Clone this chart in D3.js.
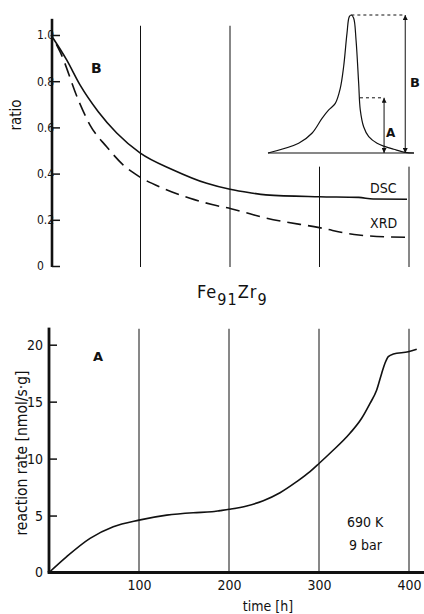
<!DOCTYPE html>
<html>
<head>
<meta charset="utf-8">
<script src="https://cdn.jsdelivr.net/npm/d3@7"></script>
<style>
    body { margin: 0; background: #fff; }
    svg text { font-family: "DejaVu Sans Condensed", "Liberation Sans Narrow", "DejaVu Sans", sans-serif; fill: #111; }
</style>
</head>
<body>
<div id="chart-area"></div>
<script>
// time axis [h]
var timeTicks = [100, 200, 300, 400];

// upper panel: ratio from DSC and XRD
var dscTime  = [0, 17.5, 32.4, 52.8, 73.4, 99.4, 136.6, 174, 200, 222.3, 240, 299.8, 343.8, 360, 397.8];
var dscRatio = [1.0, 0.892, 0.784, 0.668, 0.576, 0.49, 0.416, 0.358, 0.332, 0.317, 0.308, 0.30, 0.297, 0.29, 0.289];
var xrdTime  = [6, 10.1, 30.5, 43.6, 62.2, 80.8, 99.4, 125.5, 155.3, 179.9, 201.1, 222.3, 235.8, 299.8, 343.8, 397.8];
var xrdRatio = [0.96, 0.928, 0.719, 0.61, 0.516, 0.437, 0.385, 0.336, 0.293, 0.266, 0.248, 0.226, 0.212, 0.166, 0.134, 0.124];
var ratioTicks = [0, 0.2, 0.4, 0.6, 0.8, 1.0];
var ratioGridEnd = [1.04, 1.04, 0.43, 0.43];

// inset: DSC peak, arbitrary units
var peakX = [0, 21, 30.1, 37, 41.6, 46.1, 49.5, 51.8, 54.1, 55.7, 57.1, 58.7, 60.3, 62.1, 63.2, 65.5, 69, 74.7, 80.3, 86.1, 94, 100];
var peakY = [0, 0.07, 0.143, 0.251, 0.312, 0.36, 0.469, 0.625, 0.867, 0.988, 1.0, 0.976, 0.819, 0.505, 0.312, 0.19, 0.118, 0.07, 0.046, 0.027, 0.004, 0];

// lower panel: reaction rate [nmol/s g]
var rateTime  = [0, 19.7, 45.6, 71.4, 100, 130.8, 160.3, 181, 190, 200.3, 219.7, 238.1, 256.7, 275.2, 290, 300.3, 312.2, 334.4, 347.4, 356.7, 364, 369.7, 373.3, 377, 382.6, 399.2, 408.6];
var rateValue = [0, 1.4, 3.0, 4.02, 4.6, 5.04, 5.25, 5.33, 5.43, 5.55, 5.84, 6.30, 7.0, 7.97, 8.85, 9.59, 10.47, 12.22, 13.54, 14.85, 16.0, 17.5, 18.37, 18.95, 19.18, 19.38, 19.6];
var rateTicks = [0, 5, 10, 15, 20];

var ink = "#111";

var svg = d3.select("#chart-area")
    .append("svg")
    .attr("width", 424)
    .attr("height", 614);

// ---------------- upper panel ----------------
var xTop = d3.scaleLinear().domain([0, 400]).range([51, 409]);
var yTop = d3.scaleLinear().domain([0, 1]).range([266, 35]);

svg.append("g").selectAll("line")
    .data(timeTicks)
    .enter().append("line")
    .attr("x1", function(d) { return xTop(d); })
    .attr("x2", function(d) { return xTop(d); })
    .attr("y1", yTop(0) + 1)
    .attr("y2", function(d, i) { return yTop(ratioGridEnd[i]); })
    .attr("stroke", ink)
    .attr("stroke-width", 1);

var yTopAxis = svg.append("g")
    .attr("transform", "translate(" + (xTop(0) + 1) + ",0)")
    .call(d3.axisLeft(yTop)
        .tickValues(ratioTicks)
        .tickSizeInner(-8)
        .tickSizeOuter(0)
        .tickPadding(3)
        .tickFormat(function(d) { return d === 0 ? "0" : d3.format(".1f")(d); }));
yTopAxis.select(".domain").remove();
yTopAxis.selectAll("line").attr("stroke", ink).attr("stroke-width", 1.5);
yTopAxis.selectAll("text")
    .attr("text-anchor", "start")
    .attr("x", -15)
    .style("font-size", "12px");

svg.append("line")
    .attr("x1", xTop(0) + 1).attr("x2", xTop(0) + 1)
    .attr("y1", yTop(1.07)).attr("y2", yTop(0) + 1)
    .attr("stroke", ink)
    .attr("stroke-width", 2.6);

var lineTop = d3.line()
    .x(function(d) { return xTop(d[0]); })
    .y(function(d) { return yTop(d[1]); })
    .curve(d3.curveMonotoneX);

svg.append("path")
    .attr("d", lineTop(d3.zip(dscTime, dscRatio)))
    .attr("fill", "none")
    .attr("stroke", ink)
    .attr("stroke-width", 1.6);

svg.append("path")
    .attr("d", lineTop(d3.zip(xrdTime, xrdRatio)))
    .attr("fill", "none")
    .attr("stroke", ink)
    .attr("stroke-width", 1.6)
    .attr("stroke-dasharray", "14,7");

svg.append("text")
    .attr("x", 370).attr("y", 193)
    .style("font-size", "14px")
    .text("DSC");
svg.append("text")
    .attr("x", 370).attr("y", 228)
    .style("font-size", "14px")
    .text("XRD");

svg.append("text")
    .attr("transform", "translate(21,115) rotate(-90)")
    .attr("text-anchor", "middle")
    .style("font-size", "15px")
    .text("ratio");

svg.append("text")
    .attr("x", 91).attr("y", 73)
    .style("font-size", "14px")
    .style("font-weight", "bold")
    .style("font-family", "'DejaVu Sans', sans-serif")
    .text("B");

// inset
var ix = d3.scaleLinear().domain([0, 100]).range([268, 414]);
var iy = d3.scaleLinear().domain([0, 1]).range([153, 15]);

var defs = svg.append("defs");
defs.append("marker")
    .attr("id", "arr")
    .attr("viewBox", "0 0 10 10")
    .attr("refX", 10).attr("refY", 5)
    .attr("markerWidth", 5).attr("markerHeight", 5)
    .attr("markerUnits", "userSpaceOnUse")
    .attr("orient", "auto-start-reverse")
    .append("path")
    .attr("d", "M0,0L10,5L0,10z")
    .attr("fill", ink);

svg.append("line")
    .attr("x1", ix(0)).attr("x2", ix(100))
    .attr("y1", iy(0)).attr("y2", iy(0))
    .attr("stroke", ink).attr("stroke-width", 1.2);

svg.append("path")
    .attr("d", d3.line()
        .x(function(d) { return ix(d[0]); })
        .y(function(d) { return iy(d[1]); })
        .curve(d3.curveCatmullRom)(d3.zip(peakX, peakY)))
    .attr("fill", "none")
    .attr("stroke", ink)
    .attr("stroke-width", 1.2);

svg.append("line")
    .attr("x1", ix(57.1)).attr("x2", ix(94))
    .attr("y1", iy(1)).attr("y2", iy(1))
    .attr("stroke", ink).attr("stroke-width", 1)
    .attr("stroke-dasharray", "3,3");
svg.append("line")
    .attr("x1", ix(94)).attr("x2", ix(94))
    .attr("y1", iy(1)).attr("y2", iy(0))
    .attr("stroke", ink).attr("stroke-width", 1)
    .attr("marker-start", "url(#arr)")
    .attr("marker-end", "url(#arr)");
svg.append("line")
    .attr("x1", ix(63)).attr("x2", ix(79.5))
    .attr("y1", iy(0.4)).attr("y2", iy(0.4))
    .attr("stroke", ink).attr("stroke-width", 1)
    .attr("stroke-dasharray", "3,3");
svg.append("line")
    .attr("x1", ix(79.5)).attr("x2", ix(79.5))
    .attr("y1", iy(0.4)).attr("y2", iy(0))
    .attr("stroke", ink).attr("stroke-width", 1)
    .attr("marker-start", "url(#arr)")
    .attr("marker-end", "url(#arr)");

svg.append("text")
    .attr("x", 410).attr("y", 87)
    .style("font-size", "13px")
    .style("font-weight", "bold")
    .style("font-family", "'DejaVu Sans', sans-serif")
    .text("B");
svg.append("text")
    .attr("x", 386).attr("y", 137)
    .style("font-size", "12px")
    .style("font-weight", "bold")
    .style("font-family", "'DejaVu Sans', sans-serif")
    .text("A");

// title
var title = svg.append("text")
    .attr("x", 197).attr("y", 298)
    .style("font-size", "18px")
    .style("letter-spacing", "1px");
title.append("tspan").text("Fe");
title.append("tspan").attr("dy", 7).style("font-size", "16px").text("91");
title.append("tspan").attr("dy", -7).text("Zr");
title.append("tspan").attr("dy", 7).style("font-size", "16px").text("9");

// ---------------- lower panel ----------------
var xBot = d3.scaleLinear().domain([0, 400]).range([49, 409]);
var yBot = d3.scaleLinear().domain([0, 20]).range([572.5, 344.7]);

svg.append("g").selectAll("line")
    .data(timeTicks)
    .enter().append("line")
    .attr("x1", function(d) { return xBot(d); })
    .attr("x2", function(d) { return xBot(d); })
    .attr("y1", yBot(0))
    .attr("y2", yBot(21.4))
    .attr("stroke", ink)
    .attr("stroke-width", 1);

var yBotAxis = svg.append("g")
    .attr("transform", "translate(" + xBot(0) + ",0)")
    .call(d3.axisLeft(yBot)
        .tickValues(rateTicks)
        .tickSizeInner(-8)
        .tickSizeOuter(0)
        .tickPadding(6));
yBotAxis.select(".domain").remove();
yBotAxis.selectAll("line").attr("stroke", ink).attr("stroke-width", 1.5);
yBotAxis.selectAll("text").style("font-size", "14px");

var xBotAxis = svg.append("g")
    .attr("transform", "translate(0," + yBot(0) + ")")
    .call(d3.axisBottom(xBot)
        .tickValues(timeTicks)
        .tickSize(0)
        .tickPadding(8));
xBotAxis.select(".domain").remove();
xBotAxis.selectAll("text").style("font-size", "14px");

svg.append("line")
    .attr("x1", xBot(0)).attr("x2", xBot(0))
    .attr("y1", yBot(21.5)).attr("y2", yBot(0))
    .attr("stroke", ink)
    .attr("stroke-width", 2.8);
svg.append("line")
    .attr("x1", xBot(0) - 1.4).attr("x2", xBot(417))
    .attr("y1", yBot(0)).attr("y2", yBot(0))
    .attr("stroke", ink)
    .attr("stroke-width", 2.8);

svg.append("path")
    .attr("d", d3.line()
        .x(function(d) { return xBot(d[0]); })
        .y(function(d) { return yBot(d[1]); })
        .curve(d3.curveMonotoneX)(d3.zip(rateTime, rateValue)))
    .attr("fill", "none")
    .attr("stroke", ink)
    .attr("stroke-width", 1.6);

svg.append("text")
    .attr("transform", "translate(27,453) rotate(-90)")
    .attr("text-anchor", "middle")
    .style("font-size", "15.5px")
    .text("reaction rate [nmol/s\u00b7g]");

svg.append("text")
    .attr("x", 268).attr("y", 611)
    .attr("text-anchor", "middle")
    .style("font-size", "14px")
    .text("time [h]");

svg.append("text")
    .attr("x", 93).attr("y", 361)
    .style("font-size", "13px")
    .style("font-weight", "bold")
    .style("font-family", "'DejaVu Sans', sans-serif")
    .text("A");

svg.append("text")
    .attr("x", 347).attr("y", 527)
    .style("font-size", "14px")
    .text("690 K");
svg.append("text")
    .attr("x", 349).attr("y", 550)
    .style("font-size", "14px")
    .text("9 bar");
</script>
</body>
</html>
